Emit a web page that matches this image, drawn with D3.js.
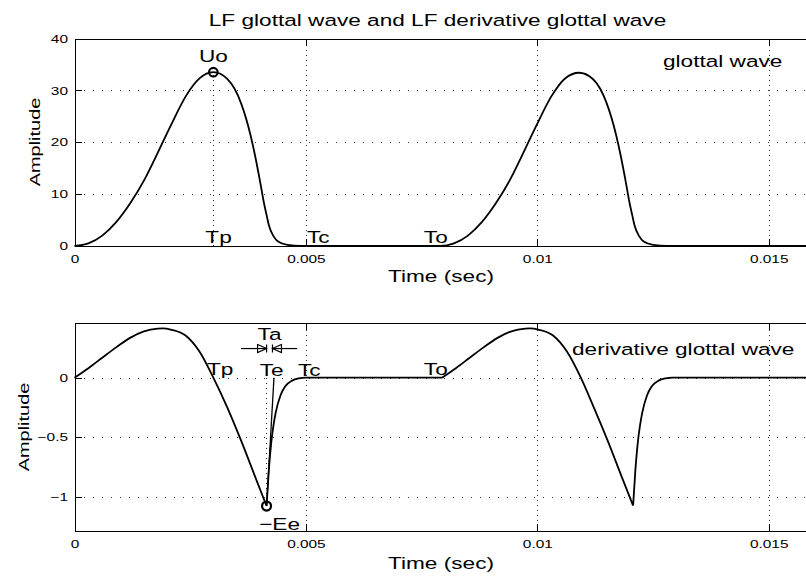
<!DOCTYPE html>
<meta charset="utf-8">
<head>
<style>
body { margin: 0; background: #fff; }
svg text { font-family: "Liberation Sans", Arial, sans-serif; fill: #000; }
.axis path, .axis line { fill: none; stroke: #000; stroke-width: 1; shape-rendering: crispEdges; }
.grid path { display: none; }
.grid line { stroke: #333; stroke-width: 1; shape-rendering: crispEdges; }
.gridx line { stroke-dasharray: 1,4; }
.gridy line { stroke-dasharray: 1,8; }
.wave { fill: none; stroke: #000; stroke-width: 1.8; stroke-linejoin: miter; }
.marker { fill: none; stroke: #000; stroke-width: 2.2; }
.guide { stroke: #222; stroke-width: 1; stroke-dasharray: 1,4; shape-rendering: crispEdges; }
.arrow { fill: none; stroke: #000; stroke-width: 1.2; }
</style>
</head>
<body>
<script src="https://cdnjs.cloudflare.com/ajax/libs/d3/7.8.5/d3.min.js"></script>
<script>
// ---- data ----
// glottal flow (top panel), time in seconds
var glottalT = [0, 0.0003, 0.0006, 0.0009, 0.0012, 0.0015, 0.0018, 0.0021, 0.0024, 0.0027,
    0.003, 0.0033, 0.0036, 0.0038, 0.0039, 0.004, 0.0041, 0.00415, 0.0042, 0.0043,
    0.0044, 0.0046, 0.0049,
    0.0079, 0.0082, 0.0085, 0.0088, 0.0091, 0.0094, 0.0097, 0.01, 0.0103, 0.0106,
    0.0109, 0.0112, 0.0115, 0.0117, 0.0118, 0.0119, 0.012, 0.01205, 0.0121, 0.0122,
    0.0123, 0.0125, 0.0128, 0.016];
var glottalU = [0, 0.5, 2.0, 4.6, 8.2, 12.6, 18.0, 23.6, 28.8, 32.3,
    33.5, 32.2, 27.5, 21.5, 17.5, 12.9, 8.0, 6.0, 4.0, 1.9,
    0.85, 0.2, 0,
    0, 0.5, 2.0, 4.6, 8.2, 12.6, 18.0, 23.6, 28.8, 32.3,
    33.4, 32.2, 27.5, 21.5, 17.5, 12.9, 8.0, 6.0, 4.0, 1.9,
    0.85, 0.2, 0, 0];

// derivative of glottal flow (bottom panel)
var derivT = [0, 0.0003, 0.0006, 0.0009, 0.0012, 0.0015, 0.0018, 0.0019, 0.0021, 0.0024,
    0.0027, 0.003, 0.0033, 0.0036, 0.0039, 0.00415,
    0.0042, 0.00425, 0.0043, 0.00435, 0.00445, 0.00455, 0.0047, 0.00485, 0.005,
    0.00794, 0.00824, 0.00854, 0.00884, 0.00914, 0.00944, 0.00974, 0.00984, 0.01004, 0.01034,
    0.01064, 0.01094, 0.01122, 0.01152, 0.01182, 0.01207,
    0.01212, 0.01217, 0.01222, 0.01227, 0.01237, 0.01247, 0.01262, 0.01277, 0.01292, 0.016];
var derivV = [0, 0.08, 0.168, 0.255, 0.335, 0.39, 0.413, 0.415, 0.403, 0.355,
    0.22, 0, -0.25, -0.53, -0.83, -1.08,
    -0.77, -0.55, -0.4, -0.29, -0.15, -0.075, -0.025, -0.006, 0,
    0, 0.08, 0.168, 0.255, 0.335, 0.39, 0.413, 0.415, 0.403, 0.355,
    0.22, 0, -0.25, -0.53, -0.83, -1.076,
    -0.77, -0.55, -0.4, -0.29, -0.15, -0.075, -0.025, -0.006, 0, 0];
// sharp corners of the derivative (pulse onsets and Te instants)
var derivCorners = [0.00415, 0.00794, 0.01207];

// LF timing points and amplitudes
var Tp = 0.003, Te = 0.00415, Ta = 0.00016, Tc = 0.005, To = 0.008;
var Uo = 33.5, Ee = 1.08;

// axis ticks
var xTicks = [0, 0.005, 0.01, 0.015];
var xTickLabels = ["0", "0.005", "0.01", "0.015"];
var yTopTicks = [0, 10, 20, 30, 40];
var yTopLabels = ["0", "10", "20", "30", "40"];
var yBotTicks = [-1, -0.5, 0];
var yBotLabels = ["\u22121", "\u22120.5", "0"];

var title = "LF glottal wave and LF derivative glottal wave";

// ---- drawing ----
var W = 806, H = 576;
var STRETCH = 1.33;   // glyphs in the reference are wide

var svg = d3.select("body").append("svg")
    .attr("width", W)
    .attr("height", H);

svg.append("rect").attr("width", W).attr("height", H).attr("fill", "#fff");

var x = d3.scaleLinear().domain([0, 0.016]).range([74.5, 815]);
var yTop = d3.scaleLinear().domain([0, 40]).range([246, 38.5]);
var yBot = d3.scaleLinear().domain([-1.29, 0.46]).range([531, 323]);

function label(str, px, py, size, anchor, rot) {
    return svg.append("text")
        .text(str)
        .attr("font-size", size)
        .attr("text-anchor", anchor || "start")
        .attr("transform", "translate(" + px + "," + py + ")" + (rot ? " rotate(" + rot + ")" : "") + " scale(" + STRETCH + ",1)");
}

function panel(y, yTicks, yLabels, yGrid) {
    var x0 = x.range()[0], x1 = x.range()[1];
    var yb = y.range()[0], yt = y.range()[1];

    // grid
    svg.append("g").attr("class", "grid gridx")
        .attr("transform", "translate(0," + yb + ")")
        .call(d3.axisBottom(x).tickValues([0.005, 0.01, 0.015]).tickSize(-(yb - yt)).tickFormat(""));
    svg.append("g").attr("class", "grid gridy")
        .attr("transform", "translate(" + x0 + ",0)")
        .call(d3.axisLeft(y).tickValues(yGrid).tickSize(-(x1 - x0)).tickFormat(""));

    // bottom axis with labels
    var xb = svg.append("g").attr("class", "axis")
        .attr("transform", "translate(0," + yb + ")")
        .call(d3.axisBottom(x).tickValues(xTicks)
            .tickFormat(function (d, i) { return xTickLabels[i]; })
            .tickSize(-7).tickSizeOuter(0).tickPadding(9));
    xb.selectAll("text").attr("font-size", 11.6).attr("font-family", null)
        .attr("transform", "scale(" + STRETCH + ",1)");

    // top frame
    svg.append("g").attr("class", "axis")
        .attr("transform", "translate(0," + yt + ")")
        .call(d3.axisTop(x).tickValues(xTicks).tickFormat("").tickSize(-7).tickSizeOuter(0));

    // left axis
    var yl = svg.append("g").attr("class", "axis")
        .attr("transform", "translate(" + x0 + ",0)")
        .call(d3.axisLeft(y).tickValues(yTicks)
            .tickFormat(function (d, i) { return yLabels[i]; })
            .tickSize(-7).tickSizeOuter(0).tickPadding(4.9));
    yl.selectAll("text").attr("font-size", 11.6).attr("font-family", null)
        .attr("transform", "scale(" + STRETCH + ",1)");
}

panel(yTop, yTopTicks, yTopLabels, [10, 20, 30]);
panel(yBot, yBotTicks, yBotLabels, [-1, -0.5, 0]);

// split a series into pieces at corner times so that the corners stay sharp
function pieces(ts, vs, corners) {
    var out = [], cur = [];
    ts.forEach(function (t, i) {
        var p = { t: t, v: vs[i] };
        cur.push(p);
        if (corners.indexOf(t) >= 0) { out.push(cur); cur = [p]; }
    });
    if (cur.length > 1) out.push(cur);
    return out;
}

// ---- top panel: glottal wave ----
var lineTop = d3.line().x(d => x(d.t)).y(d => yTop(d.v)).curve(d3.curveMonotoneX);

svg.append("line").attr("class", "guide")
    .attr("x1", x(Tp)).attr("x2", x(Tp))
    .attr("y1", yTop(0)).attr("y2", yTop(Uo));

svg.append("path")
    .datum(glottalT.map(function (t, i) { return { t: t, v: glottalU[i] }; }))
    .attr("class", "wave").attr("d", lineTop);

svg.append("circle").attr("class", "marker")
    .attr("cx", x(Tp)).attr("cy", yTop(Uo)).attr("r", 4.3);

// ---- bottom panel: derivative ----
var lineBot = d3.line().x(d => x(d.t)).y(d => yBot(d.v)).curve(d3.curveMonotoneX);

svg.append("line").attr("class", "guide")
    .attr("x1", x(Te)).attr("x2", x(Te))
    .attr("y1", yBot(0)).attr("y2", yBot(-Ee));

svg.append("path")
    .attr("class", "wave")
    .attr("d", pieces(derivT, derivV, derivCorners).map(lineBot).join(""));

// tangent at Te, crossing zero at Te + Ta
svg.append("line")
    .attr("x1", x(Te)).attr("y1", yBot(-Ee))
    .attr("x2", x(Te + Ta)).attr("y2", yBot(0))
    .attr("stroke", "#000").attr("stroke-width", 1.3);

svg.append("circle").attr("class", "marker")
    .attr("cx", x(Te)).attr("cy", yBot(-Ee)).attr("r", 4.5);

// Ta arrows
var ay = yBot(0.245);
var aL = x(Te), aR = x(Te + Ta) - 1.5;
svg.append("line").attr("class", "arrow").attr("x1", x(Te - 0.00055)).attr("x2", aL).attr("y1", ay).attr("y2", ay);
svg.append("line").attr("class", "arrow").attr("x1", aR).attr("x2", x(Te + Ta + 0.0005)).attr("y1", ay).attr("y2", ay);
svg.append("path").attr("class", "arrow")
    .attr("d", "M" + (aL - 9) + "," + (ay - 4) + "L" + aL + "," + ay + "L" + (aL - 9) + "," + (ay + 4) + "Z" +
        "M" + aL + "," + (ay - 4) + "L" + aL + "," + (ay + 4));
svg.append("path").attr("class", "arrow")
    .attr("d", "M" + (aR + 9) + "," + (ay - 4) + "L" + aR + "," + ay + "L" + (aR + 9) + "," + (ay + 4) + "Z" +
        "M" + aR + "," + (ay - 4) + "L" + aR + "," + (ay + 4));

// ---- text ----
label(title, 437.5, 26, 17, "middle");
label("Time (sec)", 441, 282, 17, "middle");
label("Time (sec)", 441, 569, 17, "middle");
label("Amplitude", 40, 142, 15, "middle", -90);
label("Amplitude", 29, 427, 15, "middle", -90);

label("glottal wave", 663, 67, 17, "start");
label("derivative glottal wave", 572, 355, 17, "start");

label("Uo", x(Tp), yTop(Uo) - 10, 17, "middle");
label("Tp", x(Tp) - 8, yTop(0) - 3, 17, "start");
label("Tc", x(Tc) + 1, yTop(0) - 3, 17, "start");
label("To", x(To) + 3, yTop(0) - 3, 17, "end");

label("Tp", 207, yBot(0) - 3, 17, "start");
label("Ta", (aL + aR) / 2, ay - 9, 17, "middle");
label("Te", x(Te) + 5, yBot(0) - 2, 17, "middle");
label("Tc", x(Tc) - 8, yBot(0) - 2, 17, "start");
label("To", x(To) + 3, yBot(0) - 3, 17, "end");
label("\u2212Ee", x(Te) + 13, yBot(-Ee) + 24, 17, "middle");
</script>
</body>
